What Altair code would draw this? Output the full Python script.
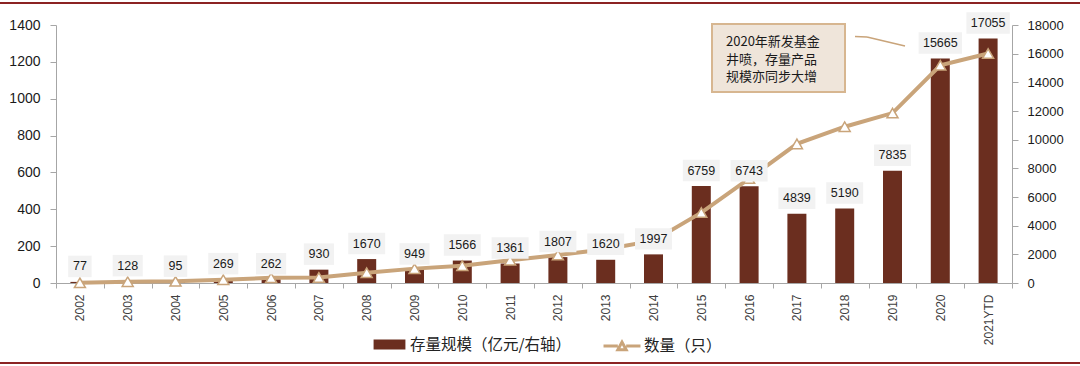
import altair as alt
import pandas as pd

years = ["2002", "2003", "2004", "2005", "2006", "2007", "2008", "2009", "2010",
         "2011", "2012", "2013", "2014", "2015", "2016", "2017", "2018", "2019",
         "2020", "2021YTD"]
aum = [77, 128, 95, 269, 262, 930, 1670, 949, 1566, 1361, 1807, 1620, 1997,
       6759, 6743, 4839, 5190, 7835, 15665, 17055]
counts = [1, 7, 9, 18, 28, 30, 56, 78, 94, 123, 152, 183, 230, 382, 567, 755,
          848, 922, 1181, 1245]
note_lines = ["2020年新发基金", "井喷，存量产品", "规模亦同步大增"]
bar_name = "存量规模（亿元/右轴）"
line_name = "数量（只）"

df = pd.DataFrame({"year": years, "aum": aum, "count": counts})

BROWN = "#6B2E1F"
TAN = "#C9A47A"
AXIS_GRAY = "#A6A6A6"
CJK = "Noto Sans CJK SC"
NUM = "Liberation Sans"

W, H = 956, 258

x_enc = alt.X(
    "year:N", sort=years,
    scale=alt.Scale(paddingInner=0, paddingOuter=0),
    axis=alt.Axis(title=None, labelAngle=-90, tickBand="extent", labelFont=NUM,
                  labelFontSize=12, labelColor="#404040", labelPadding=6,
                  tickSize=5, domainColor=AXIS_GRAY, tickColor=AXIS_GRAY),
)

y_aum_axis = alt.Y(
    "aum:Q", scale=alt.Scale(domain=[0, 18000], nice=False),
    axis=alt.Axis(title=None, orient="right", grid=False, format="d",
                  values=list(range(0, 18001, 2000)), labelFont=NUM,
                  labelFontSize=13, labelColor="#1a1a1a", tickSize=6,
                  labelPadding=9, domainColor=AXIS_GRAY, tickColor=AXIS_GRAY),
)
y_aum_noaxis = alt.Y("aum:Q", scale=alt.Scale(domain=[0, 18000], nice=False), axis=None)
y_cnt_axis = alt.Y(
    "count:Q", scale=alt.Scale(domain=[0, 1400], nice=False),
    axis=alt.Axis(title=None, orient="left", grid=False, format="d",
                  values=list(range(0, 1401, 200)), labelFont=NUM,
                  labelFontSize=14, labelColor="#1a1a1a", tickSize=6,
                  labelPadding=10, domainColor=AXIS_GRAY, tickColor=AXIS_GRAY),
)
y_cnt_noaxis = alt.Y("count:Q", scale=alt.Scale(domain=[0, 1400], nice=False), axis=None)

base = alt.Chart(df)

bars = base.transform_calculate(s1=f"'{bar_name}'").mark_bar(size=19).encode(
    x=x_enc,
    y=y_aum_axis,
    fill=alt.Fill("s1:N", scale=alt.Scale(domain=[bar_name], range=[BROWN]),
                  legend=alt.Legend(title=None, orient="none", legendX=324, legendY=310,
                                    padding=0, symbolType="M-1.75,-0.55H1.75V0.55H-1.75Z",
                                    symbolSize=331, symbolStrokeWidth=0,
                                    labelFont=CJK, labelFontSize=15.5, labelColor="#222222",
                                    labelOffset=11, labelLimit=400)),
)

line = base.transform_calculate(s2=f"'{line_name}'").mark_line(strokeWidth=4).encode(
    x=x_enc,
    y=y_cnt_axis,
    stroke=alt.Stroke("s2:N", scale=alt.Scale(domain=[line_name], range=[TAN]),
                      legend=alt.Legend(title=None, orient="none", legendX=555, legendY=310,
                                        padding=0,
                                        symbolType="M-2,0H-0.45M0.45,0H2M-0.45,0.4L0,-0.42L0.45,0.4Z",
                                        symbolSize=342, symbolStrokeWidth=3,
                                        symbolFillColor="white",
                                        labelFont=CJK, labelFontSize=15.5, labelColor="#222222",
                                        labelOffset=11, labelLimit=400)),
)

pts = base.mark_point(shape="triangle-up", filled=True, fill="white", stroke=TAN,
                      strokeWidth=1.5, size=121, opacity=1).encode(
    x=x_enc, y=y_cnt_noaxis)

box_paths = ["M-1.09,-1H1.09V1H-1.09Z", "M-1.4,-1H1.4V1H-1.4Z",
             "M-1.72,-1H1.72V1H-1.72Z", "M-2.02,-1H2.02V1H-2.02Z"]
boxes = base.transform_calculate(nd="length(toString(datum.aum))").mark_point(
    filled=True, fill="#F2F2F2", opacity=1, strokeWidth=0, size=462, yOffset=-15.5
).encode(
    x=x_enc, y=y_aum_noaxis,
    shape=alt.Shape("nd:O", scale=alt.Scale(domain=[2, 3, 4, 5], range=box_paths), legend=None),
)

labels = base.mark_text(yOffset=-15.5, font=NUM, fontSize=12.5, color="#1a1a1a",
                        baseline="middle", align="center").encode(
    x=x_enc, y=y_aum_noaxis, text=alt.Text("aum:Q", format="d"))

one = alt.Data(values=[{}])
top_rule = alt.Chart(one).mark_rule(color="#8B2323", strokeWidth=2).encode(
    x=alt.value(-56), x2=alt.value(1024), y=alt.value(-22))
bot_rule = alt.Chart(one).mark_rule(color="#8B2323", strokeWidth=2).encode(
    x=alt.value(-56), x2=alt.value(1024), y=alt.value(338))

note_box = alt.Chart(one).mark_rect(fill="#EFE5DA", stroke="#D7B690", strokeWidth=2).encode(
    x=alt.value(656), x2=alt.value(789), y=alt.value(-1), y2=alt.value(67))
note_layers = []
for i, ly in enumerate([16.7, 35, 52.3]):
    note_layers.append(
        alt.Chart(one).mark_text(align="left", baseline="middle", font=CJK,
                                 fontSize=13, color="#1a1a1a").encode(
            x=alt.value(670), y=alt.value(ly), text=alt.value(note_lines[i]))
    )
conn1 = alt.Chart(one).mark_rule(color=TAN, strokeWidth=1.5).encode(
    x=alt.value(799), x2=alt.value(811), y=alt.value(11.5), y2=alt.value(12))
conn2 = alt.Chart(one).mark_rule(color=TAN, strokeWidth=1.5).encode(
    x=alt.value(811), x2=alt.value(849), y=alt.value(12), y2=alt.value(21))

chart = alt.layer(
    bars, line, pts, boxes, labels, note_box, *note_layers, conn1, conn2, top_rule, bot_rule
).resolve_scale(y="independent").properties(
    width=W, height=H,
    padding={"left": 56, "top": 25, "right": 68, "bottom": 83},
    autosize="none",
    background="white",
).configure_view(stroke=None)

chart.save("out.html", embed_options={"renderer": "svg", "actions": False})
